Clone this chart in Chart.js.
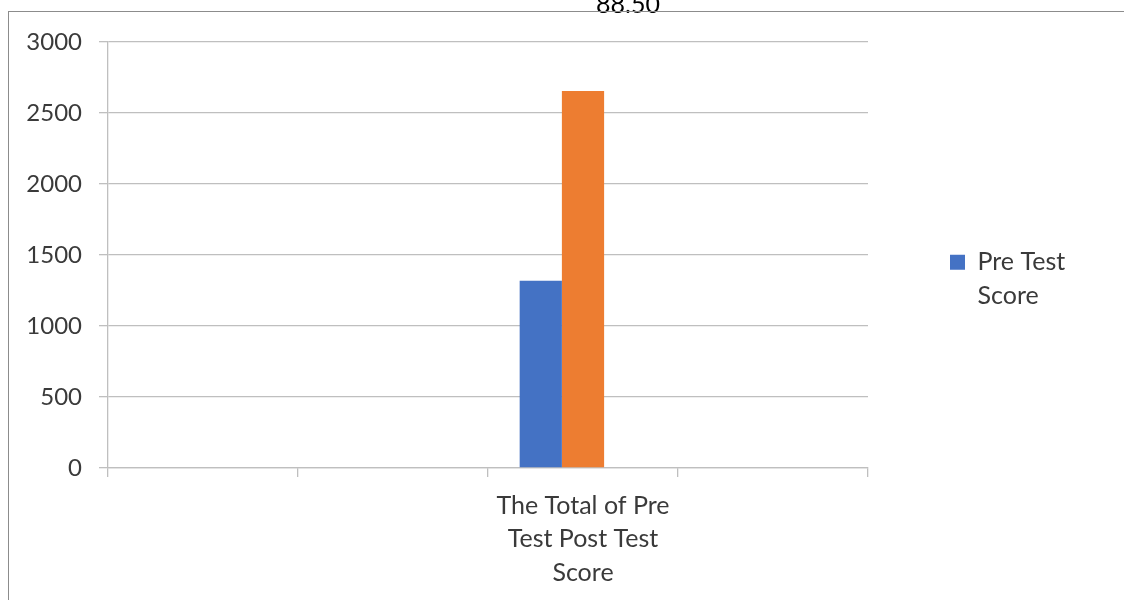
<!DOCTYPE html>
<html><head><meta charset="utf-8">
<script src="https://cdn.jsdelivr.net/npm/chart.js@4"></script>
<style>
html,body{margin:0;padding:0;background:#fff;overflow:hidden;width:1124px;height:600px;}
#wrap{position:absolute;left:0;top:-10px;width:1124px;height:610px;}
#frame{position:absolute;left:8px;top:11px;width:1300px;height:800px;border-left:1px solid #8c8c8c;border-top:1px solid #8c8c8c;pointer-events:none;}
</style></head><body>
<div id="wrap"><canvas id="c" width="1124" height="610"></canvas></div>
<div id="frame"></div>
<script>
// ---- data ----
const categories = ['', '', ['The Total of Pre', 'Test Post Test', 'Score'], ''];
const seriesNames = ['Pre Test Score', 'Post Test Score', 'Series 3'];
const preTestValues = [null, null, 1318, null];
const postTestValues = [null, null, 2655, null];
const series3Values = [null, null, null, null];
const yTickValues = [0, 500, 1000, 1500, 2000, 2500, 3000];
const titleText = '88.50';

const FONT = 'Lato, "Open Sans", sans-serif';
const TXT = '#3a3a3a';
const GRID = '#bfbfbf';

const tweak = {
  id: 'tweak',
  afterInit(chart) {
    const L = chart.legend;
    if (L && !L._wrapped) {
      const f = L.fit.bind(L);
      L.fit = function () { f(); this.width = 256; };
      L._wrapped = true;
    }
  },
  afterLayout(chart) {
    const L = chart.legend;
    if (L) { L.left += 72; L.top -= 12; L.bottom -= 12; }
    const T = chart.titleBlock;
    if (T) { T.left += 66; T.right += 66; }
  }
};

new Chart(document.getElementById('c'), {
  type: 'bar',
  data: {
    labels: categories,
    datasets: [
      { label: seriesNames[0], data: preTestValues, backgroundColor: '#4472C4' },
      { label: seriesNames[1], data: postTestValues, backgroundColor: '#ED7D31' },
      { label: seriesNames[2], data: series3Values, backgroundColor: '#A5A5A5' }
    ]
  },
  options: {
    responsive: false,
    animation: false,
    devicePixelRatio: 1,
    categoryPercentage: 3 / 4.5,
    barPercentage: 1,
    layout: { padding: { left: 0, right: 0, top: 0, bottom: 0 } },
    plugins: {
      tooltip: { enabled: false },
      title: {
        display: true, text: titleText, color: '#000',
        font: { family: FONT, size: 25, weight: 'normal', lineHeight: 1.2 },
        padding: { top: 0, bottom: 22 }
      },
      legend: {
        position: 'right',
        labels: {
          color: TXT, boxWidth: 15, boxHeight: 15, padding: 10,
          font: { family: FONT, size: 25, lineHeight: 1.33 },
          generateLabels(chart) {
            const items = Chart.defaults.plugins.legend.labels.generateLabels(chart);
            return items.filter(i => i.datasetIndex === 0).map(i => {
              const k = i.text.lastIndexOf(' ');
              return Object.assign({}, i, { text: [i.text.slice(0, k), i.text.slice(k + 1)], lineWidth: 0 });
            });
          }
        }
      }
    },
    scales: {
      x: {
        afterFit(s) { s.height = 132; },
        grid: { display: true, drawOnChartArea: false, drawTicks: true, tickLength: 9, color: GRID, lineWidth: 1.3, offset: true },
        border: { display: true, color: GRID, width: 1.3 },
        ticks: { color: TXT, padding: 12, maxRotation: 0, autoSkip: false, font: { family: FONT, size: 25, lineHeight: 1.34 } }
      },
      y: {
        min: 0, max: 3000,
        afterFit(s) { s.width = 108; },
        afterBuildTicks(s) { s.ticks = yTickValues.map(v => ({ value: v })); },
        grid: { color: GRID, lineWidth: 1.3, tickLength: 9, drawTicks: true },
        border: { display: true, color: GRID, width: 1.3 },
        ticks: { color: TXT, padding: 17, font: { family: FONT, size: 24 }, callback: v => String(v) }
      }
    }
  },
  plugins: [tweak]
});
</script>
</body></html>
